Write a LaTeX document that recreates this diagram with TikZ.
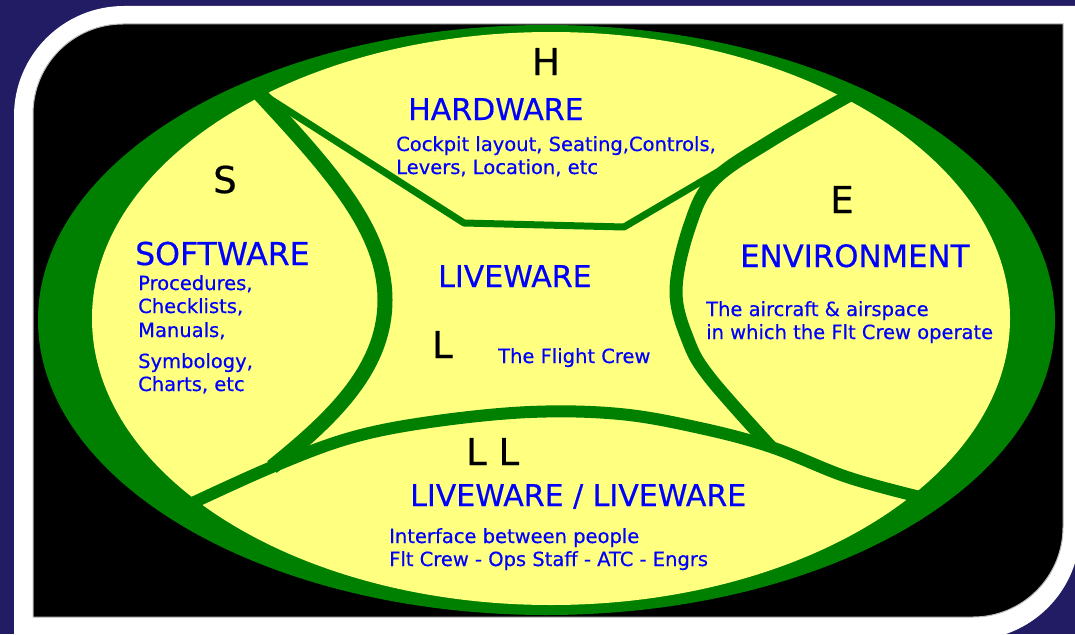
\documentclass[tikz,border=0pt]{standalone}
\usepackage{fontspec}
\setmainfont{DejaVu Sans}
\newfontfamily\thickfont[FakeBold=0.5]{DejaVu Sans}
\definecolor{navy}{HTML}{221C64}
\definecolor{leaf}{HTML}{008000}
\definecolor{pale}{HTML}{FFFF80}
\definecolor{ink}{HTML}{0000FF}
\begin{document}
\begin{tikzpicture}[x=1pt,y=-1pt,
  letter/.style={text=black,font=\thickfont\fontsize{37}{40}\selectfont,inner sep=0,anchor=base},
  head/.style={text=ink,font=\thickfont\fontsize{30}{34}\selectfont,inner sep=0,anchor=base west},
  body/.style={text=ink,font=\thickfont\fontsize{19.5}{23}\selectfont,inner sep=0,anchor=base west},
  divider/.style={draw=leaf,line join=round,line cap=round}]
\useasboundingbox (0,0) rectangle (1075,634);
% background and frame
\fill[navy] (0,0) rectangle (1075,634);
\fill[white] (14,640) -- (14,116) arc[start angle=180,end angle=270,radius=110]
  -- (1080,6) -- (1080,530) arc[start angle=0,end angle=90,radius=110] -- cycle;
\fill[black,draw=gray!55,line width=1] (33,617) -- (33,114) arc[start angle=180,end angle=270,radius=90]
  -- (1063,24) -- (1063,527) arc[start angle=0,end angle=90,radius=90] -- cycle;
% ellipse
\fill[leaf] (546.5,320) ellipse[x radius=508.5,y radius=295];
\fill[pale] (551,318.5) ellipse[x radius=459,y radius=286.5];
% junctions
\coordinate (tl) at (256,90);
\coordinate (tr) at (850,95);
\coordinate (bl) at (186,506);
\coordinate (br) at (920,497);
\coordinate (sj) at (272,467);
\coordinate (ej) at (771,447);
\coordinate (hl) at (464,223);
\coordinate (hr) at (624,227);
\coordinate (he) at (772,140);
\begin{scope}
\clip (546.5,320) ellipse[x radius=508.5,y radius=295];
% hardware boundary
\draw[divider,line width=7] (tl) -- (hl) -- (hr) -- (he);
% software boundary
\draw[divider,line width=15,line cap=butt] (tl) .. controls (330,170) and (385,230) .. (385,300)
  .. controls (385,370) and (330,420) .. (sj);
% environment boundary
\draw[divider,line width=13,line cap=butt] plot[smooth,tension=0.6] coordinates
  {(tr) (he) (714,180) (690,225) (676,290) (688,340) (710,378) (ej)};
% liveware / liveware boundary
\draw[divider,line width=12] plot[smooth,tension=0.6] coordinates
  {(bl) (sj) (350,438) (430,422) (530,412) (620,414) (700,428) (ej) (847,477) (br)};
\end{scope}
% letters
\node[letter] (H) at (546,75) {H};
\node[letter] (S) at (225,193) {S};
\node[letter] (E) at (842,213) {E};
\node[letter,anchor=base west] (L) at (432,358) {L};
\node[letter,anchor=base west] (LL) at (466,465) {L L};
% hardware
\node[head] (hw) at (408,120) {HARDWARE};
\node[body] (hw1) at (396,151) {Cockpit layout, Seating,Controls,};
\node[body] (hw2) at (396,174) {Levers, Location, etc};
% software
\node[head,font=\thickfont\fontsize{31.5}{34}\selectfont] (sw) at (135,265) {SOFTWARE};
\node[body] (sw1) at (138,290) {Procedures,};
\node[body] (sw2) at (138,313) {Checklists,};
\node[body] (sw3) at (138,337) {Manuals,};
\node[body] (sw4) at (138,368) {Symbology,};
\node[body] (sw5) at (138,391) {Charts, etc};
% environment
\node[head,font=\thickfont\fontsize{30.8}{34}\selectfont] (env) at (740,267) {ENVIRONMENT};
\node[body] (env1) at (706,316) {The aircraft \& airspace};
\node[body] (env2) at (706,339) {in which the Flt Crew operate};
% liveware
\node[head] (lw) at (438,287) {LIVEWARE};
\node[body] (lw1) at (498,363) {The Flight Crew};
% liveware / liveware
\node[head] (ll) at (410,506) {LIVEWARE / LIVEWARE};
\node[body] (ll1) at (389,543) {Interface between people};
\node[body] (ll2) at (389,566) {Flt Crew - Ops Staff - ATC - Engrs};
\end{tikzpicture}
\end{document}
